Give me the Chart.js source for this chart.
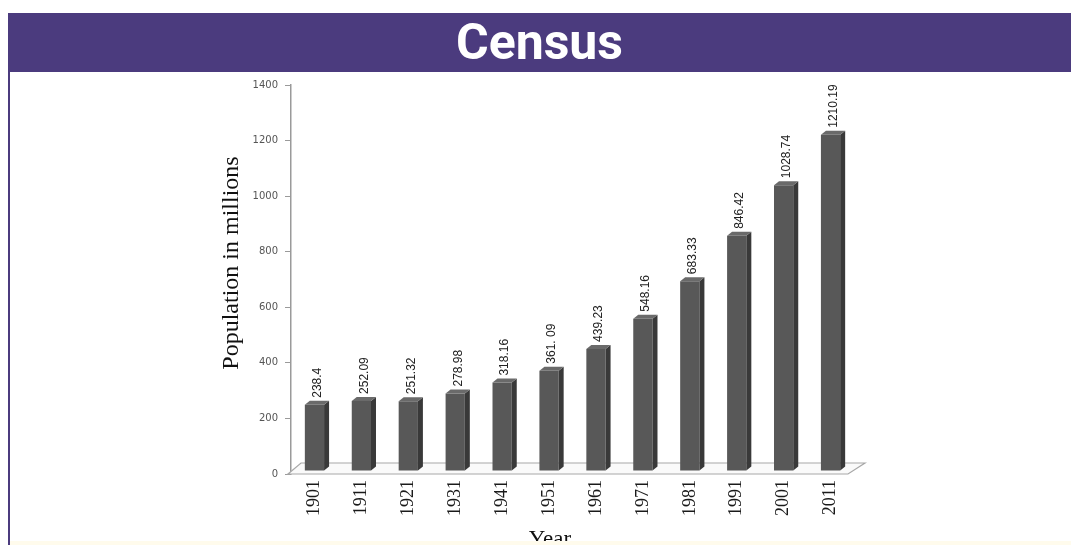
<!DOCTYPE html>
<html>
<head>
<meta charset="utf-8">
<script src="https://cdn.jsdelivr.net/npm/chart.js@4"></script>
<style>
  html, body { margin: 0; padding: 0; background: #fff; }
  body { width: 1071px; height: 545px; position: relative; overflow: hidden; }
  #banner {
    position: absolute; left: 8px; right: 0; top: 13px; height: 59px;
    background: #4b3b7e; color: #fff; text-align: center;
    font-family: Roboto, sans-serif; font-weight: bold; font-size: 50px; line-height: 59px;
  }
  #edge { position: absolute; left: 8px; top: 72px; width: 2px; bottom: 0; background: #4b3b7e; }
  #foot { position: absolute; left: 10px; right: 0; bottom: 0; height: 4px; background: #fffbec; }
  #wrap { position: absolute; left: 0; top: 0; width: 1071px; height: 545px; }
</style>
</head>
<body>
<div id="wrap"><canvas id="census-chart"></canvas></div>
<div id="foot"></div>
<div id="edge"></div>
<div id="banner">Census</div>
<script>
const years = ['1901', '1911', '1921', '1931', '1941', '1951', '1961', '1971', '1981', '1991', '2001', '2011'];
const population = [238.4, 252.09, 251.32, 278.98, 318.16, 361.09, 439.23, 548.16, 683.33, 846.42, 1028.74, 1210.19];
const valueLabels = ['238.4', '252.09', '251.32', '278.98', '318.16', '361. 09', '439.23', '548.16', '683.33', '846.42', '1028.74', '1210.19'];
const yTicks = [0, 200, 400, 600, 800, 1000, 1200, 1400];

// floor under the bars, then lift the bars a little so they stand on its back edge
const floorPlugin = {
    id: 'floor',
    beforeDatasetsDraw(chart) {
        const { ctx, chartArea } = chart;
        const y0 = chart.scales.y.getPixelForValue(0);
        ctx.save();
        ctx.beginPath();
        ctx.moveTo(chartArea.left - 3, y0);
        ctx.lineTo(chartArea.right - 6, y0);
        ctx.lineTo(chartArea.right + 11, y0 - 11);
        ctx.lineTo(chartArea.left + 10, y0 - 11);
        ctx.closePath();
        ctx.fillStyle = '#fafafa';
        ctx.fill();
        ctx.strokeStyle = '#a8a8a8';
        ctx.lineWidth = 1.2;
        ctx.stroke();
        ctx.restore();
        ctx.save();
        ctx.translate(0, -3);
    }
};

// side + top faces, then the value labels
const barFacesPlugin = {
    id: 'barFaces',
    afterDatasetsDraw(chart) {
        const { ctx } = chart;
        const dx = 5, dy = 4;
        chart.getDatasetMeta(0).data.forEach((bar, i) => {
            const { x, y, base, width } = bar.getProps(['x', 'y', 'base', 'width'], true);
            const x1 = x - width / 2, x2 = x + width / 2;
            ctx.save();
            ctx.beginPath();
            ctx.moveTo(x2, y);
            ctx.lineTo(x2 + dx, y - dy);
            ctx.lineTo(x2 + dx, base - dy);
            ctx.lineTo(x2, base);
            ctx.closePath();
            ctx.fillStyle = '#393939';
            ctx.fill();
            ctx.beginPath();
            ctx.moveTo(x1, y);
            ctx.lineTo(x1 + dx, y - dy);
            ctx.lineTo(x2 + dx, y - dy);
            ctx.lineTo(x2, y);
            ctx.closePath();
            ctx.fillStyle = '#6a6a6a';
            ctx.fill();

            ctx.translate(x + 3, y - dy - 3);
            ctx.rotate(-Math.PI / 2);
            ctx.font = '12px "Liberation Sans", Arial, sans-serif';
            ctx.fillStyle = '#222';
            ctx.textAlign = 'left';
            ctx.textBaseline = 'middle';
            ctx.fillText(valueLabels[i], 0, 0);
            ctx.restore();
        });
        ctx.restore();
    }
};

const axisTitlesPlugin = {
    id: 'axisTitles',
    afterDraw(chart) {
        const { ctx, chartArea } = chart;
        ctx.save();
        ctx.fillStyle = '#111';
        ctx.textAlign = 'center';
        ctx.textBaseline = 'middle';
        ctx.font = '23px "Liberation Serif", "Times New Roman", serif';
        ctx.fillText('Year', chartArea.left + 259, chartArea.bottom + 66);
        ctx.translate(chartArea.left - 59, chartArea.top + 178);
        ctx.rotate(-Math.PI / 2);
        ctx.font = '24px "Liberation Serif", "Times New Roman", serif';
        ctx.fillText('Population in millions', 0, 0);
        ctx.restore();
    }
};

const ctx = document.getElementById('census-chart').getContext('2d');
const censusChart = new Chart(ctx, {
    type: 'bar',
    data: {
        labels: years,
        datasets: [{
            data: population,
            backgroundColor: '#585858',
            borderWidth: 0,
            barPercentage: 0.41,
            categoryPercentage: 1
        }]
    },
    options: {
        responsive: true,
        maintainAspectRatio: false,
        animation: false,
        layout: { padding: { left: 220, right: 217, top: 85, bottom: 0 } },
        scales: {
            x: {
                afterFit: (s) => { s.height = 71; },
                grid: { display: false, drawTicks: false },
                border: { display: false },
                ticks: {
                    minRotation: 90,
                    maxRotation: 90,
                    padding: 6,
                    color: '#1a1a1a',
                    font: { family: '"Liberation Serif", "Times New Roman", serif', size: 18 }
                }
            },
            y: {
                min: 0,
                max: 1400,
                afterFit: (s) => { s.width = 71; },
                afterBuildTicks: (s) => { s.ticks = yTicks.map(v => ({ value: v })); },
                grid: { drawOnChartArea: false, tickLength: 6, color: '#9a9a9a' },
                border: { color: '#9a9a9a', width: 1.5 },
                ticks: {
                    padding: 7,
                    color: '#555',
                    callback: (v) => String(v),
                    font: { family: '"DejaVu Sans", Verdana, sans-serif', size: 10 }
                }
            }
        },
        plugins: {
            legend: { display: false },
            tooltip: { enabled: false }
        }
    },
    plugins: [floorPlugin, barFacesPlugin, axisTitlesPlugin]
});
</script>
</body>
</html>
